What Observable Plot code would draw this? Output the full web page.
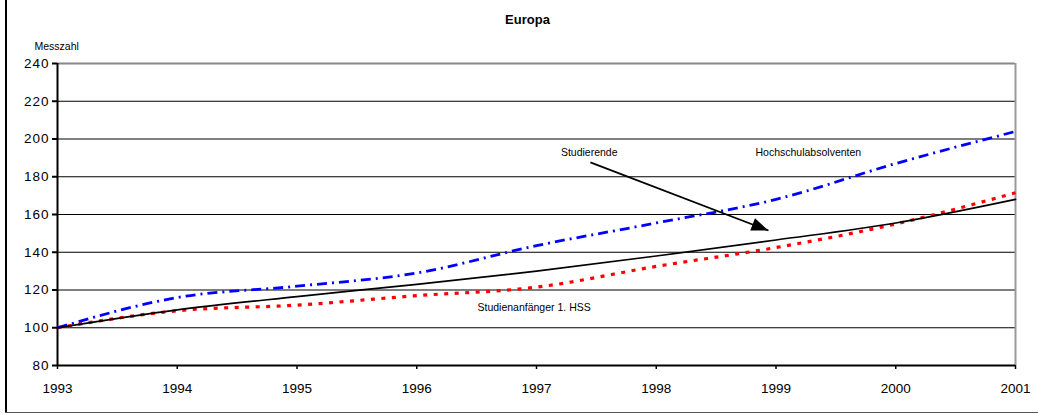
<!DOCTYPE html>
<html>
<head>
<meta charset="utf-8">
<script src="https://cdn.jsdelivr.net/npm/d3@7"></script>
<script src="https://cdn.jsdelivr.net/npm/@observablehq/plot@0.6"></script>
<style>
  html, body { margin: 0; padding: 0; background: #fff; }
  #wrap { position: relative; width: 1038px; height: 414px; overflow: hidden; }
  #edgeL { position: absolute; left: 5px; top: 0; width: 2px; height: 413px; background: #000; }
  #edgeB { position: absolute; left: 5px; top: 412px; width: 1040px; height: 1px; background: #555; }
  svg { position: absolute; left: 0; top: 0; }
  [aria-label$="tick label"], [aria-label$="tick label"] text { font-size: 13.5px !important; }
  [aria-label="y-axis tick label"] text { letter-spacing: 1px; }
</style>
</head>
<body>
<div id="wrap"><div id="edgeL"></div><div id="edgeB"></div></div>
<script>
// ---- data ----
const years = [1993, 1994, 1995, 1996, 1997, 1998, 1999, 2000, 2001];
const studierende = [100, 109.5, 116.5, 123, 130, 138, 146.5, 155.5, 168];
const absolventen = [100, 116, 122, 129, 143.5, 155.5, 168, 187, 204];
const anfaenger   = [100, 109, 112, 117, 121.5, 132.5, 142.5, 155, 171.5];
const yTicks = [80, 100, 120, 140, 160, 180, 200, 220, 240];
const xTicks = years;

const title = "Europa";
const yLabel = "Messzahl";
const labels = [
  {text: "Studierende", x: 1997.44, y: 192.8},
  {text: "Hochschulabsolventen", x: 1999.27, y: 192.8},
  {text: "Studienanfänger 1. HSS", x: 1996.98, y: 110.7}
];
const arrowFrom = {x: 1997.45, y: 187.6};
const arrowTo = {x: 1998.937, y: 151.5};

const rows = (vals) => years.map((yr, i) => ({year: yr, value: vals[i]}));

const headSymbol = {
  draw(ctx) {
    ctx.moveTo(0, 0);
    ctx.lineTo(6.5, 17);
    ctx.lineTo(-6.5, 17);
    ctx.closePath();
  }
};

const chart = Plot.plot({
  width: 1038,
  height: 414,
  marginLeft: 57,
  marginRight: 23,
  marginTop: 63,
  marginBottom: 49,
  style: {fontFamily: "'Liberation Sans', Arial, sans-serif", fontSize: "13px", color: "#000", background: "transparent"},
  x: {domain: [1993, 2001]},
  y: {domain: [80, 240]},
  marks: [
    Plot.ruleY(yTicks.filter(d => d > 80 && d < 240), {stroke: "#000", strokeWidth: 1.2}),
    Plot.ruleY([240], {stroke: "#888", strokeWidth: 2}),
    Plot.ruleX([2001], {stroke: "#999", strokeWidth: 2}),
    Plot.axisY({ticks: yTicks, tickSize: 5, tickPadding: 3, fontSize: 13.5, stroke: "#000", strokeWidth: 2, label: null}),
    Plot.axisX({ticks: xTicks, tickFormat: "d", tickSize: 4, tickPadding: 14, fontSize: 13.5, stroke: "#000", strokeWidth: 1.5, label: null}),
    Plot.ruleX([1993], {stroke: "#000", strokeWidth: 2}),
    Plot.ruleY([80], {stroke: "#000", strokeWidth: 2}),
    Plot.line(rows(anfaenger), {x: "year", y: "value", stroke: "#ff0000", strokeWidth: 3.2, strokeDasharray: "4,6.5", strokeLinecap: "butt", curve: "monotone-x"}),
    Plot.line(rows(absolventen), {x: "year", y: "value", stroke: "#0000ff", strokeWidth: 2.8, strokeDasharray: "10,5,2,5", strokeLinecap: "butt", curve: "monotone-x"}),
    Plot.line(rows(studierende), {x: "year", y: "value", stroke: "#000", strokeWidth: 1.7, curve: "monotone-x"}),
    Plot.link([0], {x1: () => arrowFrom.x, y1: () => arrowFrom.y, x2: () => arrowTo.x, y2: () => arrowTo.y, stroke: "#000", strokeWidth: 1.7}),
    Plot.dot([arrowTo], {x: "x", y: "y", symbol: headSymbol, fill: "#000", stroke: "none", rotate: 111.3}),
    Plot.text(labels, {x: "x", y: "y", text: "text", fontSize: 10.5, fill: "#000", textAnchor: "middle"}),
    Plot.text([title], {frameAnchor: "top", dx: -9, dy: -49, fontSize: 13, fontWeight: "bold", fill: "#000"}),
    Plot.text([yLabel], {frameAnchor: "top-left", dx: -23, dy: -21, fontSize: 10.5, textAnchor: "start", fill: "#000"})
  ]
});
document.getElementById("wrap").appendChild(chart);
</script>
</body>
</html>
